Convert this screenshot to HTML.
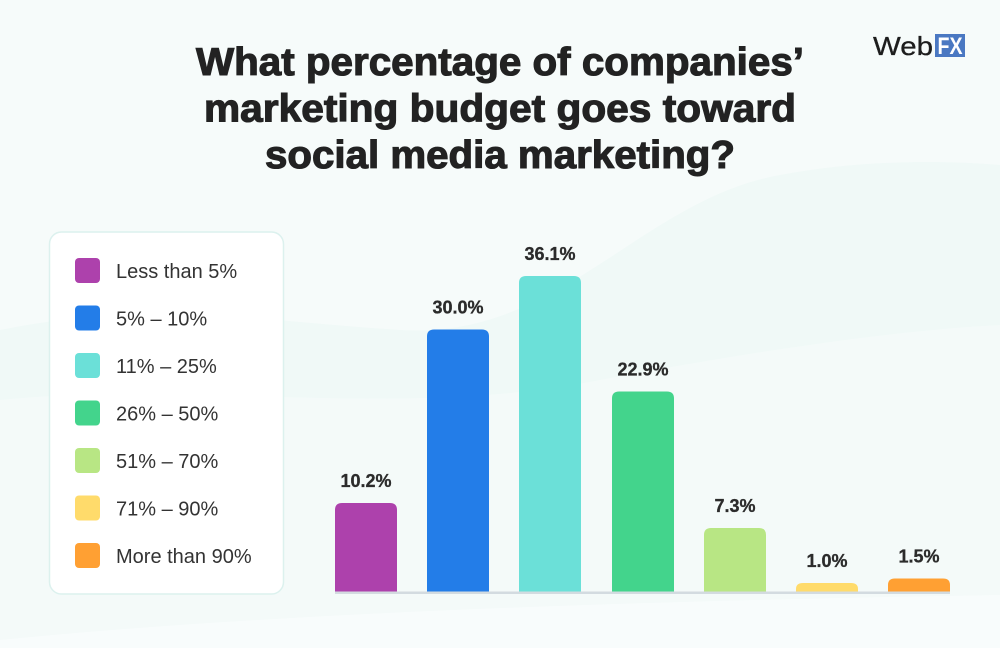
<!DOCTYPE html>
<html>
<head>
<meta charset="utf-8">
<style>
  html,body{margin:0;padding:0;background:#f6fbfa;}
  svg{display:block;}
</style>
</head>
<body>
<svg width="1000" height="648" viewBox="0 0 1000 648" xmlns="http://www.w3.org/2000/svg">
  <rect x="0" y="0" width="1000" height="648" fill="#f6fbfa"/>
  <!-- subtle wave -->
  <path d="M0,330 C150,300 250,320 400,330 C560,340 640,200 780,175 C860,160 940,160 1000,165 L1000,648 L0,648 Z" fill="#f0f9f7"/>
  <path d="M0,400 C200,380 400,420 600,380 C760,350 900,330 1000,325 L1000,648 L0,648 Z" fill="#f4faf9"/>
  <path d="M0,640 C300,610 700,600 1000,595 L1000,648 L0,648 Z" fill="#f8fcfc"/>

  <!-- logo -->
  <text x="873" y="55" font-family="Liberation Sans, sans-serif" font-size="26" fill="#1d1d1d" stroke="#1d1d1d" stroke-width="0.3" textLength="60" lengthAdjust="spacingAndGlyphs">Web</text>
  <rect x="935" y="34" width="30" height="23" fill="#4a78c2"/>
  <text x="950" y="54" text-anchor="middle" font-family="Liberation Sans, sans-serif" font-weight="bold" font-size="24" fill="#ffffff" textLength="25" lengthAdjust="spacingAndGlyphs">FX</text>

  <!-- title -->
  <g font-family="Liberation Sans, sans-serif" font-weight="bold" font-size="39" fill="#222222" stroke="#222222" stroke-width="1.1" text-anchor="middle">
    <text x="500" y="75" textLength="608" lengthAdjust="spacingAndGlyphs">What percentage of companies’</text>
    <text x="500" y="121.5" textLength="592" lengthAdjust="spacingAndGlyphs">marketing budget goes toward</text>
    <text x="500" y="168" textLength="470" lengthAdjust="spacingAndGlyphs">social media marketing?</text>
  </g>

  <!-- legend -->
  <rect x="49.5" y="232" width="234" height="362" rx="12" ry="12" fill="#ffffff" stroke="#dcf1ee" stroke-width="1.5"/>
  <g font-family="Liberation Sans, sans-serif" font-size="20" fill="#333333">
    <rect x="75" y="258" width="25" height="25" rx="4" fill="#ad41ac"/>
    <text x="116" y="278">Less than 5%</text>
    <rect x="75" y="305.5" width="25" height="25" rx="4" fill="#237de8"/>
    <text x="116" y="325.5">5% – 10%</text>
    <rect x="75" y="353" width="25" height="25" rx="4" fill="#6be0d8"/>
    <text x="116" y="373">11% – 25%</text>
    <rect x="75" y="400.5" width="25" height="25" rx="4" fill="#43d48c"/>
    <text x="116" y="420.5">26% – 50%</text>
    <rect x="75" y="448" width="25" height="25" rx="4" fill="#b8e684"/>
    <text x="116" y="468">51% – 70%</text>
    <rect x="75" y="495.5" width="25" height="25" rx="4" fill="#ffdb6b"/>
    <text x="116" y="515.5">71% – 90%</text>
    <rect x="75" y="543" width="25" height="25" rx="4" fill="#ffa033"/>
    <text x="116" y="563">More than 90%</text>
  </g>

  <!-- bars -->
  <g>
    <path d="M335,592 L335,510 Q335,503 342,503 L390,503 Q397,503 397,510 L397,592 Z" fill="#ad41ac"/>
    <path d="M427,592 L427,336.5 Q427,329.5 434,329.5 L482,329.5 Q489,329.5 489,336.5 L489,592 Z" fill="#237de8"/>
    <path d="M519,592 L519,283 Q519,276 526,276 L574,276 Q581,276 581,283 L581,592 Z" fill="#6be0d8"/>
    <path d="M612,592 L612,398.5 Q612,391.5 619,391.5 L667,391.5 Q674,391.5 674,398.5 L674,592 Z" fill="#43d48c"/>
    <path d="M704,592 L704,535 Q704,528 711,528 L759,528 Q766,528 766,535 L766,592 Z" fill="#b8e684"/>
    <path d="M796,592 L796,589 Q796,583 803,583 L851,583 Q858,583 858,589 L858,592 Z" fill="#ffdb6b"/>
    <path d="M888,592 L888,585 Q888,578.5 895,578.5 L943,578.5 Q950,578.5 950,585 L950,592 Z" fill="#ffa033"/>
  </g>
  <rect x="335" y="591.5" width="615" height="2.5" fill="#d3dbe0"/>

  <!-- value labels -->
  <g font-family="Liberation Sans, sans-serif" font-weight="bold" font-size="18" fill="#2b2b2b" stroke="#2b2b2b" stroke-width="0.3" text-anchor="middle">
    <text x="366" y="487">10.2%</text>
    <text x="458" y="313.5">30.0%</text>
    <text x="550" y="260">36.1%</text>
    <text x="643" y="375.5">22.9%</text>
    <text x="735" y="512">7.3%</text>
    <text x="827" y="567">1.0%</text>
    <text x="919" y="562.5">1.5%</text>
  </g>
</svg>
</body>
</html>
